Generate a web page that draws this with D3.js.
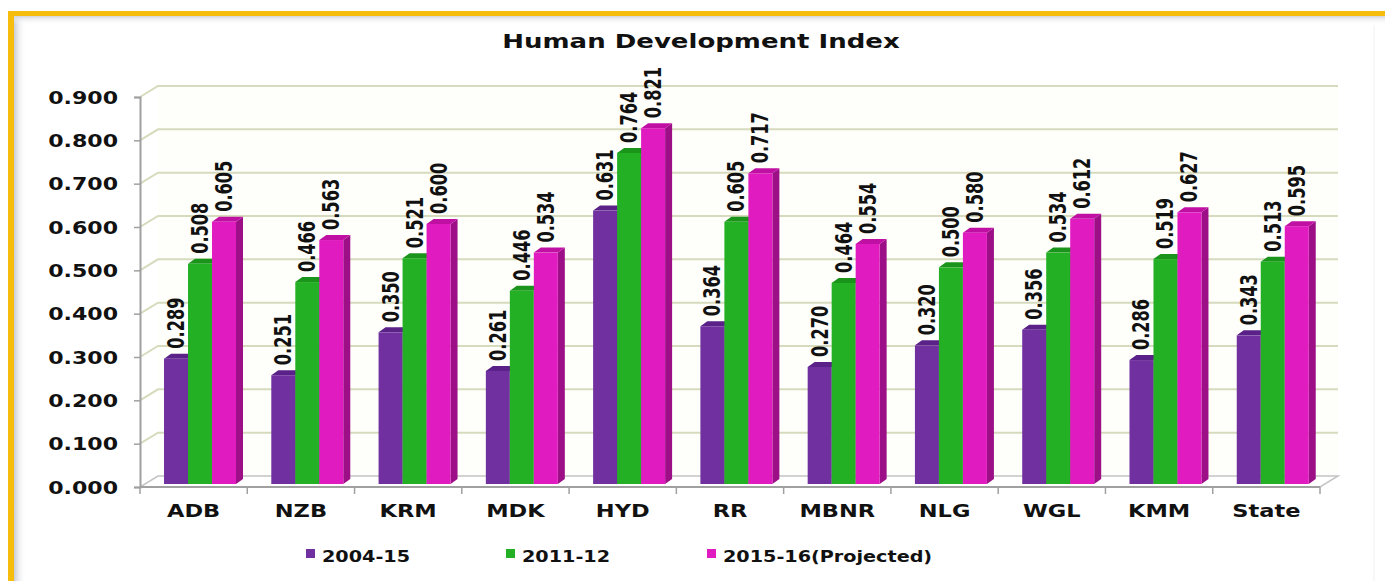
<!DOCTYPE html>
<html>
<head>
<meta charset="utf-8">
<script src="https://cdn.jsdelivr.net/npm/d3@7"></script>
<style>
  body { margin: 0; background: #ffffff; }
  svg { display: block; }
</style>
</head>
<body>
<div id="chart"></div>
<script>
// data
const districts = ['ADB', 'NZB', 'KRM', 'MDK', 'HYD', 'RR', 'MBNR', 'NLG', 'WGL', 'KMM', 'State'];
const seriesNames = ['2004-15', '2011-12', '2015-16(Projected)'];
const hdi2004 = [0.289, 0.251, 0.350, 0.261, 0.631, 0.364, 0.270, 0.320, 0.356, 0.286, 0.343];
const hdi2011 = [0.508, 0.466, 0.521, 0.446, 0.764, 0.605, 0.464, 0.500, 0.534, 0.519, 0.513];
const hdi2015 = [0.605, 0.563, 0.600, 0.534, 0.821, 0.717, 0.554, 0.580, 0.612, 0.627, 0.595];
const yTicks = [0, 0.1, 0.2, 0.3, 0.4, 0.5, 0.6, 0.7, 0.8, 0.9];

function barchart3d(){

    let width = 1385,
        height = 581,
        plot = {left: 140, right: 1320, top: 97, bottom: 487},
        depth = {dx: 18, dy: -11},
        barDepth = {dx: 7, dy: -5},
        colors = [
            {front: '#7030a0', top: '#5a2288', side: '#4e1c77'},
            {front: '#24b024', top: '#1a941a', side: '#157f15'},
            {front: '#e01cc0', top: '#c010a4', side: '#9c0f86'}
        ],
        series = [hdi2004, hdi2011, hdi2015];

    let svg = d3.select('#chart')
        .append('svg')
        .attr('width', width)
        .attr('height', height);

    // frame: gold border with a soft grey shadow inside
    let defs = svg.append('defs');
    let gl = defs.append('linearGradient').attr('id', 'shadowLeft');
    gl.append('stop').attr('offset', '0%').attr('stop-color', '#c9cdd2');
    gl.append('stop').attr('offset', '100%').attr('stop-color', '#ffffff').attr('stop-opacity', 0);
    let gt = defs.append('linearGradient').attr('id', 'shadowTop')
        .attr('x1', 0).attr('y1', 0).attr('x2', 0).attr('y2', 1);
    gt.append('stop').attr('offset', '0%').attr('stop-color', '#d3d6da');
    gt.append('stop').attr('offset', '100%').attr('stop-color', '#ffffff').attr('stop-opacity', 0);

    svg.append('rect').attr('x', 14).attr('y', 16).attr('width', 12).attr('height', height - 16)
        .attr('fill', 'url(#shadowLeft)');
    svg.append('rect').attr('x', 14).attr('y', 16).attr('width', width - 14).attr('height', 9)
        .attr('fill', 'url(#shadowTop)');
    svg.append('rect').attr('x', 8).attr('y', 11).attr('width', width - 8).attr('height', 5)
        .attr('fill', '#f6bd0c');
    svg.append('rect').attr('x', 8).attr('y', 11).attr('width', 6).attr('height', height - 11)
        .attr('fill', '#f6bd0c');
    svg.append('line').attr('x1', 1374).attr('x2', 1374).attr('y1', 25).attr('y2', height)
        .attr('stroke', '#eef0f2').attr('stroke-width', 1);

    // scales
    let x = d3.scaleBand()
        .domain(districts)
        .range([plot.left, plot.right])
        .padding(0);

    let xInner = d3.scaleBand()
        .domain(seriesNames)
        .range([x.bandwidth() * 0.224, x.bandwidth() * 0.895])
        .padding(0);

    let y = d3.scaleLinear()
        .domain([0, 0.9])
        .range([plot.bottom, plot.top]);

    // bars sit a little back on the floor
    let yBar = d3.scaleLinear()
        .domain([0, 0.9])
        .range([plot.bottom - 3, plot.top - 3]);

    // back wall and gridlines
    svg.append('polygon')
        .attr('points', [
            [plot.left + depth.dx, plot.top + depth.dy],
            [plot.right + depth.dx, plot.top + depth.dy],
            [plot.right + depth.dx, plot.bottom + depth.dy],
            [plot.left + depth.dx, plot.bottom + depth.dy]
        ].join(' '))
        .attr('fill', '#fefefb');

    let grid = svg.append('g')
        .attr('fill', 'none')
        .attr('stroke', '#d6dbbd')
        .attr('stroke-width', 2);

    grid.selectAll('path')
        .data(yTicks.slice(1))
        .enter().append('path')
        .attr('d', d => 'M' + plot.left + ',' + y(d) +
            'L' + (plot.left + depth.dx) + ',' + (y(d) + depth.dy) +
            'L' + (plot.right + depth.dx) + ',' + (y(d) + depth.dy));

    // floor
    svg.append('polygon')
        .attr('points', [
            [plot.left, plot.bottom],
            [plot.right, plot.bottom],
            [plot.right + depth.dx, plot.bottom + depth.dy],
            [plot.left + depth.dx, plot.bottom + depth.dy]
        ].join(' '))
        .attr('fill', '#ffffff')
        .attr('stroke', '#c4c4c4')
        .attr('stroke-width', 1.5);

    // y axis
    let yAxis = d3.axisLeft(y)
        .tickValues(yTicks)
        .tickSize(6)
        .tickPadding(0)
        .tickFormat(d3.format('.3f'));

    let yg = svg.append('g')
        .attr('transform', 'translate(' + plot.left + ',0)')
        .call(yAxis);
    yg.select('.domain').attr('stroke', '#a0a0a0').attr('stroke-width', 2);
    yg.selectAll('.tick line').attr('stroke', '#a0a0a0').attr('stroke-width', 1.5);
    yg.selectAll('.tick text')
        .attr('x', 0)
        .attr('dy', null)
        .attr('y', 0)
        .attr('transform', 'translate(-22,6) scale(1.3,1)')
        .attr('font-family', 'DejaVu Sans, Verdana, sans-serif')
        .attr('font-weight', 'bold')
        .attr('font-size', 17)
        .attr('fill', '#111');

    // x axis ticks at band edges
    let xg = svg.append('g');
    xg.append('line')
        .attr('x1', plot.left).attr('x2', plot.right)
        .attr('y1', plot.bottom).attr('y2', plot.bottom)
        .attr('stroke', '#a0a0a0').attr('stroke-width', 2);
    xg.selectAll('.xtick')
        .data(districts.concat(['end']))
        .enter().append('line')
        .attr('class', 'xtick')
        .attr('x1', (d, i) => i < districts.length ? x(d) : plot.right)
        .attr('x2', (d, i) => i < districts.length ? x(d) : plot.right)
        .attr('y1', plot.bottom)
        .attr('y2', plot.bottom + 7)
        .attr('stroke', '#a0a0a0')
        .attr('stroke-width', 1.5);

    xg.selectAll('.xlabel')
        .data(districts)
        .enter().append('text')
        .attr('class', 'xlabel')
        .attr('transform', d => 'translate(' + (x(d) + x.bandwidth() / 2) + ',517) scale(1.25,1)')
        .attr('text-anchor', 'middle')
        .attr('font-family', 'DejaVu Sans, Verdana, sans-serif')
        .attr('font-weight', 'bold')
        .attr('font-size', 18)
        .attr('fill', '#111')
        .text(d => d);

    // bars, drawn series by series inside each district
    let groups = svg.append('g')
        .selectAll('g')
        .data(districts)
        .enter().append('g')
        .attr('transform', d => 'translate(' + x(d) + ',0)');

    let bw = xInner.bandwidth();

    seriesNames.forEach(function(name, s){
        let c = colors[s];
        let bars = groups.append('g');

        // side face
        bars.append('polygon')
            .attr('points', (d, i) => {
                let x0 = xInner(name) + bw, yt = yBar(series[s][i]), yb = yBar(0);
                return [[x0, yt], [x0 + barDepth.dx, yt + barDepth.dy],
                    [x0 + barDepth.dx, yb + barDepth.dy], [x0, yb]].join(' ');
            })
            .attr('fill', c.side);

        // top face
        bars.append('polygon')
            .attr('points', (d, i) => {
                let x0 = xInner(name), yt = yBar(series[s][i]);
                return [[x0, yt], [x0 + bw, yt], [x0 + bw + barDepth.dx, yt + barDepth.dy],
                    [x0 + barDepth.dx, yt + barDepth.dy]].join(' ');
            })
            .attr('fill', c.top);

        // front face
        bars.append('rect')
            .attr('x', xInner(name))
            .attr('y', (d, i) => yBar(series[s][i]))
            .attr('width', bw)
            .attr('height', (d, i) => yBar(0) - yBar(series[s][i]))
            .attr('fill', c.front);
    });

    // value labels, rotated
    seriesNames.forEach(function(name, s){
        groups.append('text')
            .attr('transform', (d, i) => 'translate(' + (xInner(name) + bw / 2 + 8) + ',' +
                (yBar(series[s][i]) - 10) + ') rotate(-90) scale(1,1.3)')
            .attr('font-family', 'DejaVu Sans Condensed, DejaVu Sans, sans-serif')
            .attr('font-stretch', 'condensed')
            .attr('font-weight', 'bold')
            .attr('font-size', 18)
            .attr('fill', '#111')
            .text((d, i) => d3.format('.3f')(series[s][i]));
    });

    // title
    svg.append('text')
        .attr('transform', 'translate(701,48) scale(1.3,1)')
        .attr('text-anchor', 'middle')
        .attr('font-family', 'DejaVu Sans, Verdana, sans-serif')
        .attr('font-weight', 'bold')
        .attr('font-size', 20)
        .attr('fill', '#111')
        .text('Human Development Index');

    // legend
    let legendX = [306, 506, 707];
    let legend = svg.append('g')
        .selectAll('g')
        .data(seriesNames)
        .enter().append('g')
        .attr('transform', (d, i) => 'translate(' + legendX[i] + ',549)');

    legend.append('rect')
        .attr('width', 9)
        .attr('height', 9)
        .attr('fill', (d, i) => colors[i].front);

    legend.append('text')
        .attr('transform', 'translate(16,13) scale(1.2,1)')
        .attr('font-family', 'DejaVu Sans, Verdana, sans-serif')
        .attr('font-weight', 'bold')
        .attr('font-size', 16)
        .attr('fill', '#111')
        .text(d => d);

    return svg;
}

barchart3d();
</script>
</body>
</html>
